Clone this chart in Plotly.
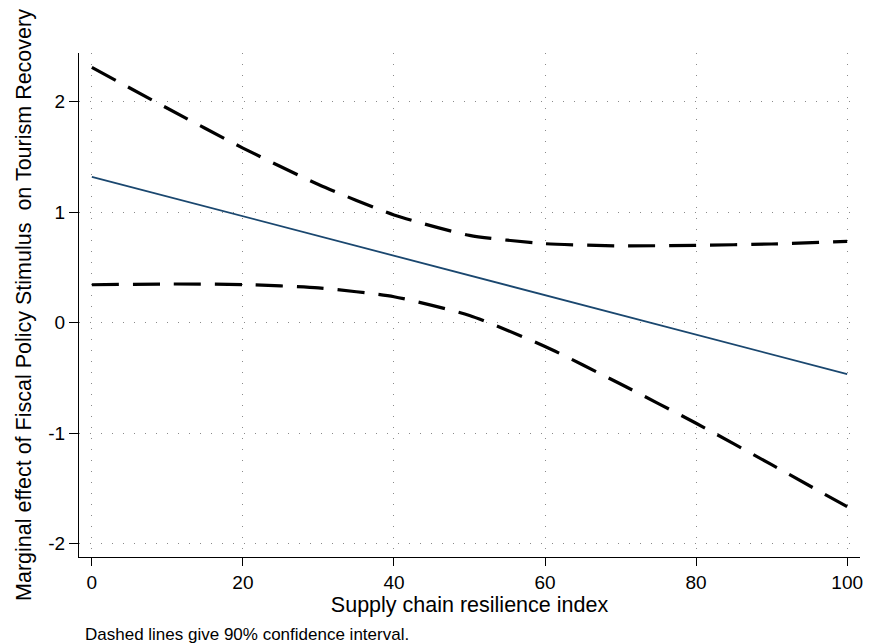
import plotly.graph_objects as go

# Data
x_vals = [0, 10, 20, 30, 40, 50, 60, 70, 80, 90, 100]
effect = [1.32, 1.1415, 0.963, 0.7845, 0.606, 0.4275, 0.249, 0.0705, -0.108, -0.2865, -0.465]
upper_ci = [2.31, 1.94, 1.58, 1.25, 0.975, 0.79, 0.715, 0.695, 0.70, 0.712, 0.735]
lower_ci = [0.343, 0.35, 0.345, 0.315, 0.235, 0.065, -0.215, -0.555, -0.91, -1.285, -1.665]
x_ticks = [0, 20, 40, 60, 80, 100]
y_ticks = [-2, -1, 0, 1, 2]
y_tick_text = ["-2", "-1", "0", "1", "2"]

FONT = "Liberation Sans, Arial, sans-serif"
DASH = "27px,14px"

fig = go.Figure()
fig.add_trace(go.Scatter(x=x_vals, y=upper_ci, mode="lines",
                         line=dict(color="black", width=3.2, dash=DASH, shape="spline", smoothing=0.6),
                         showlegend=False, hoverinfo="skip"))
fig.add_trace(go.Scatter(x=x_vals, y=lower_ci, mode="lines",
                         line=dict(color="black", width=3.2, dash=DASH, shape="spline", smoothing=0.6),
                         showlegend=False, hoverinfo="skip"))
fig.add_trace(go.Scatter(x=x_vals, y=effect, mode="lines",
                         line=dict(color="#1a476f", width=1.8),
                         showlegend=False))

fig.update_layout(
    width=873, height=644,
    margin=dict(l=79, r=10, t=53, b=87),
    paper_bgcolor="white", plot_bgcolor="white",
    font=dict(family=FONT, color="black"),
    xaxis=dict(range=[-1.7, 101.7], tickvals=x_ticks, ticks="outside", ticklen=8, tickwidth=1.3,
               tickcolor="black", showline=True, linecolor="black", linewidth=1.3,
               showgrid=True, gridcolor="#8a8a8a", gridwidth=1, griddash="1px,10px",
               zeroline=False, tickfont=dict(size=19, family=FONT),
               title=dict(text="Supply chain resilience index", font=dict(size=21.5, family=FONT), standoff=2)),
    yaxis=dict(range=[-2.12, 2.44], tickvals=y_ticks, ticktext=y_tick_text, ticks="outside", ticklen=9,
               tickwidth=1.3, tickcolor="black", showline=True, linecolor="black", linewidth=1.3,
               showgrid=True, gridcolor="#8a8a8a", gridwidth=1, griddash="1px,10px",
               zeroline=False, tickfont=dict(size=19, family=FONT), tickangle=0,
               title=dict(text="Marginal effect of Fiscal Policy Stimulus\u00a0 on Tourism Recovery",
                          font=dict(size=21.5, family=FONT), standoff=10)),
    annotations=[dict(text="Dashed lines give 90% confidence interval.", xref="paper", yref="paper",
                      x=0.005, y=-0.153, xanchor="left", yanchor="middle", showarrow=False,
                      font=dict(size=17, family=FONT, color="black"))],
)

fig.write_html("out.html")
